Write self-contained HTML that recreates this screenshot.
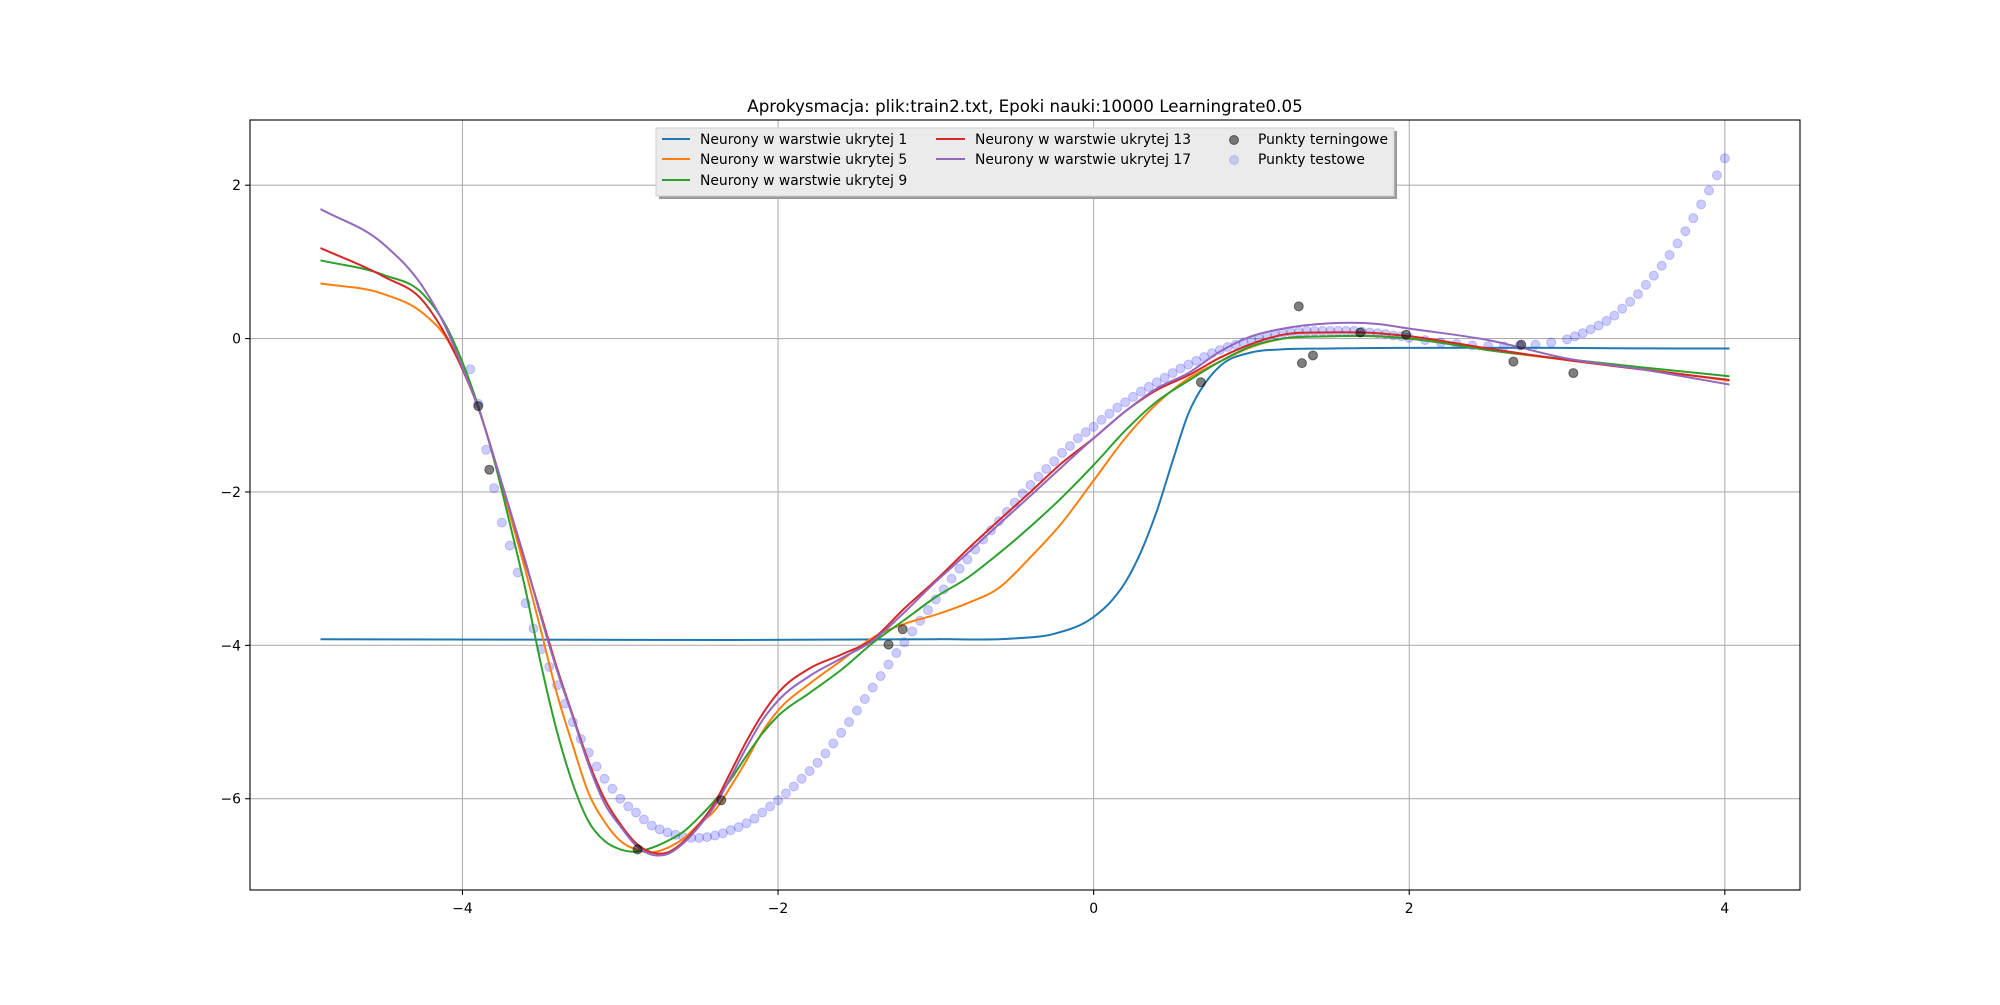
<!DOCTYPE html>
<html><head><meta charset="utf-8"><style>
html,body{margin:0;padding:0;background:#fff;}
svg text{font-family:"DejaVu Sans","Liberation Sans",sans-serif;}
</style></head><body>
<svg id="chart" width="2000" height="1000" xmlns="http://www.w3.org/2000/svg">
<rect x="0" y="0" width="2000" height="1000" fill="#fff"/>
<text x="1025" y="112" text-anchor="middle" font-size="16.7" fill="#000">Aprokysmacja: plik:train2.txt, Epoki nauki:10000 Learningrate0.05</text>
<g id="grid"></g>
<g id="test"></g>
<g id="lines"></g>
<g id="train"></g>
<rect x="250" y="120" width="1550" height="770" fill="none" stroke="#000" stroke-width="1.1"/>
<g id="ticks"></g>
<g id="legend">
 <rect x="659" y="131" width="738" height="68" fill="#9a9a9a"/>
 <rect x="656" y="128" width="738" height="68" fill="#ebebeb" stroke="#d0d0d0" stroke-width="1"/>
 <g><line x1="662" y1="139" x2="690" y2="139" stroke="#1f77b4" stroke-width="2"/><text x="700" y="144" font-size="13.9">Neurony w warstwie ukrytej 1</text></g>
 <g><line x1="662" y1="159" x2="690" y2="159" stroke="#ff7f0e" stroke-width="2"/><text x="700" y="164" font-size="13.9">Neurony w warstwie ukrytej 5</text></g>
 <g><line x1="662" y1="180" x2="690" y2="180" stroke="#2ca02c" stroke-width="2"/><text x="700" y="185" font-size="13.9">Neurony w warstwie ukrytej 9</text></g>
 <g><line x1="936" y1="139" x2="965" y2="139" stroke="#d62728" stroke-width="2"/><text x="975" y="144" font-size="13.9">Neurony w warstwie ukrytej 13</text></g>
 <g><line x1="936" y1="159" x2="965" y2="159" stroke="#9467bd" stroke-width="2"/><text x="975" y="164" font-size="13.9">Neurony w warstwie ukrytej 17</text></g>
 <g><circle cx="1234" cy="140" r="4.5" fill="#000" fill-opacity="0.5" stroke="#000" stroke-opacity="0.5"/><text x="1258" y="144" font-size="13.9">Punkty terningowe</text></g>
 <g><circle cx="1234" cy="160" r="4.5" fill="#0000ff" fill-opacity="0.15" stroke="#0000ff" stroke-opacity="0.15"/><text x="1258" y="164" font-size="13.9">Punkty testowe</text></g>
</g>
</svg>
<script>
const xTicks = [-4, -2, 0, 2, 4];
const yTicks = [2, 0, -2, -4, -6];
const xTickLabels = ["\u22124", "\u22122", "0", "2", "4"];
const yTickLabels = ["2", "0", "\u22122", "\u22124", "\u22126"];
const curveX = [-4.9,-4.5,-4.25,-4.1,-4.0,-3.9,-3.8,-3.7,-3.6,-3.5,-3.4,-3.3,-3.2,-3.1,-3.0,-2.9,-2.8,-2.7,-2.6,-2.5,-2.4,-2.3,-2.2,-2.1,-2.0,-1.8,-1.6,-1.4,-1.2,-1.0,-0.8,-0.6,-0.4,-0.2,0,0.2,0.4,0.6,0.8,1.0,1.2,1.5,1.8,2.0,2.5,3.0,3.5,4.03];
const blueX = [-4.9,-1.0,-0.5,-0.25,0,0.1,0.2,0.3,0.4,0.5,0.6,0.7,0.8,1.0,1.2,1.5,4.03];
const blueY = [-3.92,-3.92,-3.91,-3.85,-3.63,-3.45,-3.18,-2.78,-2.25,-1.6,-0.98,-0.6,-0.36,-0.18,-0.14,-0.13,-0.13];
const orangeY = [0.72,0.58,0.33,0.0,-0.4,-0.9,-1.55,-2.29,-3.03,-3.83,-4.64,-5.31,-5.93,-6.3,-6.55,-6.66,-6.7,-6.64,-6.52,-6.33,-6.15,-5.84,-5.5,-5.13,-4.85,-4.5,-4.2,-3.9,-3.72,-3.6,-3.45,-3.25,-2.85,-2.4,-1.85,-1.3,-0.85,-0.52,-0.3,-0.11,0.0,0.03,0.03,0.0,-0.15,-0.28,-0.4,-0.55];
const greenY = [1.02,0.83,0.58,0.15,-0.31,-0.88,-1.58,-2.41,-3.28,-4.27,-5.13,-5.81,-6.3,-6.55,-6.66,-6.69,-6.64,-6.55,-6.43,-6.24,-6.02,-5.75,-5.44,-5.15,-4.92,-4.62,-4.32,-3.97,-3.67,-3.37,-3.12,-2.8,-2.45,-2.07,-1.65,-1.2,-0.82,-0.55,-0.3,-0.1,0.0,0.03,0.03,0.0,-0.15,-0.27,-0.38,-0.49];
const redY = [1.18,0.81,0.49,0.02,-0.4,-0.9,-1.55,-2.23,-2.93,-3.62,-4.3,-4.92,-5.52,-6.0,-6.33,-6.58,-6.7,-6.7,-6.56,-6.33,-6.05,-5.65,-5.25,-4.9,-4.62,-4.3,-4.12,-3.92,-3.52,-3.15,-2.75,-2.37,-2.0,-1.62,-1.3,-0.95,-0.67,-0.48,-0.25,-0.07,0.05,0.08,0.07,0.03,-0.13,-0.28,-0.41,-0.54];
const purpleY = [1.69,1.23,0.67,0.12,-0.38,-0.9,-1.55,-2.23,-2.91,-3.65,-4.33,-4.94,-5.56,-6.06,-6.36,-6.61,-6.73,-6.72,-6.58,-6.36,-6.09,-5.72,-5.33,-4.98,-4.72,-4.4,-4.17,-3.94,-3.57,-3.17,-2.8,-2.42,-2.05,-1.67,-1.3,-0.95,-0.65,-0.45,-0.17,0.03,0.13,0.2,0.19,0.13,-0.02,-0.26,-0.41,-0.6];
const trainX = [-3.9,-3.83,-2.89,-2.36,-1.3,-1.21,0.68,1.3,1.32,1.39,1.69,1.98,2.66,2.71,3.04];
const trainY = [-0.88,-1.71,-6.66,-6.02,-3.99,-3.79,-0.57,0.42,-0.32,-0.22,0.08,0.05,-0.3,-0.08,-0.45];
const testX = [-3.95,-3.9,-3.85,-3.8,-3.75,-3.7,-3.65,-3.6,-3.55,-3.5,-3.45,-3.4,-3.35,-3.3,-3.25,-3.2,-3.15,-3.1,-3.05,-3.0,-2.95,-2.9,-2.85,-2.8,-2.75,-2.7,-2.65,-2.6,-2.55,-2.5,-2.45,-2.4,-2.35,-2.3,-2.25,-2.2,-2.15,-2.1,-2.05,-2.0,-1.95,-1.9,-1.85,-1.8,-1.75,-1.7,-1.65,-1.6,-1.55,-1.5,-1.45,-1.4,-1.35,-1.3,-1.25,-1.2,-1.15,-1.1,-1.05,-1.0,-0.95,-0.9,-0.85,-0.8,-0.75,-0.7,-0.65,-0.6,-0.55,-0.5,-0.45,-0.4,-0.35,-0.3,-0.25,-0.2,-0.15,-0.1,-0.05,0,0.05,0.1,0.15,0.2,0.25,0.3,0.35,0.4,0.45,0.5,0.55,0.6,0.65,0.7,0.75,0.8,0.85,0.9,0.95,1.0,1.05,1.1,1.15,1.2,1.25,1.3,1.35,1.4,1.45,1.5,1.55,1.6,1.65,1.7,1.75,1.8,1.85,1.9,1.95,2.0,2.1,2.2,2.3,2.4,2.5,2.6,2.7,2.8,2.9,3.0,3.05,3.1,3.15,3.2,3.25,3.3,3.35,3.4,3.45,3.5,3.55,3.6,3.65,3.7,3.75,3.8,3.85,3.9,3.95,4.0];
const testY = [-0.4,-0.85,-1.45,-1.95,-2.4,-2.7,-3.05,-3.45,-3.78,-4.05,-4.28,-4.52,-4.76,-5.0,-5.22,-5.4,-5.58,-5.74,-5.87,-6.0,-6.1,-6.18,-6.27,-6.35,-6.4,-6.44,-6.47,-6.5,-6.51,-6.51,-6.5,-6.48,-6.45,-6.41,-6.37,-6.32,-6.26,-6.18,-6.1,-6.02,-5.93,-5.84,-5.74,-5.64,-5.53,-5.41,-5.28,-5.14,-5.0,-4.85,-4.7,-4.55,-4.4,-4.25,-4.1,-3.96,-3.82,-3.68,-3.54,-3.4,-3.27,-3.13,-3.0,-2.88,-2.75,-2.62,-2.5,-2.38,-2.26,-2.14,-2.02,-1.91,-1.8,-1.7,-1.6,-1.49,-1.4,-1.3,-1.22,-1.15,-1.06,-0.98,-0.9,-0.83,-0.76,-0.69,-0.63,-0.57,-0.51,-0.45,-0.39,-0.34,-0.29,-0.24,-0.19,-0.15,-0.11,-0.08,-0.05,-0.02,0.0,0.03,0.05,0.07,0.08,0.09,0.1,0.1,0.1,0.1,0.1,0.1,0.1,0.09,0.08,0.07,0.06,0.04,0.03,0.01,-0.02,-0.05,-0.07,-0.09,-0.1,-0.1,-0.09,-0.08,-0.05,-0.01,0.03,0.07,0.12,0.17,0.23,0.3,0.39,0.48,0.58,0.7,0.82,0.95,1.09,1.24,1.4,1.57,1.75,1.93,2.13,2.35];

const NS = "http://www.w3.org/2000/svg";
const X0 = 250, X1 = 1800, Y0 = 120, Y1 = 890;
const xMin = -5.3465, xMax = 4.4765, yMin = -7.19, yMax = 2.85;
function sx(v){ return X0 + (v - xMin) / (xMax - xMin) * (X1 - X0); }
function sy(v){ return Y1 - (v - yMin) / (yMax - yMin) * (Y1 - Y0); }
function mk(tag, attrs, parent){
  const e = document.createElementNS(NS, tag);
  for (const k in attrs) e.setAttribute(k, attrs[k]);
  parent.appendChild(e);
  return e;
}
const grid = document.getElementById('grid');
const ticks = document.getElementById('ticks');
xTicks.forEach((t, i) => {
  const gl = mk('line', {x1: sx(t), x2: sx(t), y1: Y0, y2: Y1, stroke: '#b0b0b0', 'stroke-width': 1.1}, grid);
  
  
  const tk = mk('line', {x1: sx(t), x2: sx(t), y1: Y1, y2: Y1 + 4.9, stroke: '#000', 'stroke-width': 1.1}, ticks);
  
  
  const tl = mk('text', {x: sx(t), y: Y1 + 23, 'text-anchor': 'middle', 'font-size': 13.9}, ticks);
  tl.textContent = xTickLabels[i];
  
  
});
yTicks.forEach((t, i) => {
  const gl = mk('line', {x1: X0, x2: X1, y1: sy(t), y2: sy(t), stroke: '#b0b0b0', 'stroke-width': 1.1}, grid);
  
  
  const tk = mk('line', {x1: X0 - 4.9, x2: X0, y1: sy(t), y2: sy(t), stroke: '#000', 'stroke-width': 1.1}, ticks);
  
  
  const tl = mk('text', {x: X0 - 9, y: sy(t) + 5, 'text-anchor': 'end', 'font-size': 13.9}, ticks);
  tl.textContent = yTickLabels[i];
  
  
});
const testG = document.getElementById('test');
testX.forEach((x, i) => {
  const c = mk('circle', {cx: sx(x), cy: sy(testY[i]), r: 4.5, fill: '#0000ff', 'fill-opacity': 0.2, stroke: '#0000ff', 'stroke-opacity': 0.2}, testG);
  
  
});
function smoothPath(xs, ys){
  const n = xs.length;
  const m = [];
  for (let i = 0; i < n; i++){
    if (i === 0) m.push((ys[1] - ys[0]) / (xs[1] - xs[0]));
    else if (i === n - 1) m.push((ys[n-1] - ys[n-2]) / (xs[n-1] - xs[n-2]));
    else {
      const h0 = xs[i] - xs[i-1], h1 = xs[i+1] - xs[i];
      const d0 = (ys[i] - ys[i-1]) / h0, d1 = (ys[i+1] - ys[i]) / h1;
      m.push((d0 * h1 + d1 * h0) / (h0 + h1));
    }
  }
  let d = 'M' + sx(xs[0]).toFixed(1) + ' ' + sy(ys[0]).toFixed(1);
  for (let i = 0; i < n - 1; i++){
    const h = xs[i+1] - xs[i];
    const c1x = xs[i] + h / 3, c1y = ys[i] + m[i] * h / 3;
    const c2x = xs[i+1] - h / 3, c2y = ys[i+1] - m[i+1] * h / 3;
    d += ' C' + sx(c1x).toFixed(1) + ' ' + sy(c1y).toFixed(1) + ' ' + sx(c2x).toFixed(1) + ' ' + sy(c2y).toFixed(1) + ' ' + sx(xs[i+1]).toFixed(1) + ' ' + sy(ys[i+1]).toFixed(1);
  }
  return d;
}
const linesG = document.getElementById('lines');
const l1 = mk('path', {d: smoothPath(blueX, blueY), fill: 'none', stroke: '#1f77b4', 'stroke-width': 2}, linesG);


const l5 = mk('path', {d: smoothPath(curveX, orangeY), fill: 'none', stroke: '#ff7f0e', 'stroke-width': 2}, linesG);


const l9 = mk('path', {d: smoothPath(curveX, greenY), fill: 'none', stroke: '#2ca02c', 'stroke-width': 2}, linesG);


const l13 = mk('path', {d: smoothPath(curveX, redY), fill: 'none', stroke: '#d62728', 'stroke-width': 2}, linesG);


const l17 = mk('path', {d: smoothPath(curveX, purpleY), fill: 'none', stroke: '#9467bd', 'stroke-width': 2}, linesG);


const trainG = document.getElementById('train');
trainX.forEach((x, i) => {
  const c = mk('circle', {cx: sx(x), cy: sy(trainY[i]), r: 4.5, fill: '#000', 'fill-opacity': 0.5, stroke: '#000', 'stroke-opacity': 0.5}, trainG);
  
  
});
</script>
</body></html>
